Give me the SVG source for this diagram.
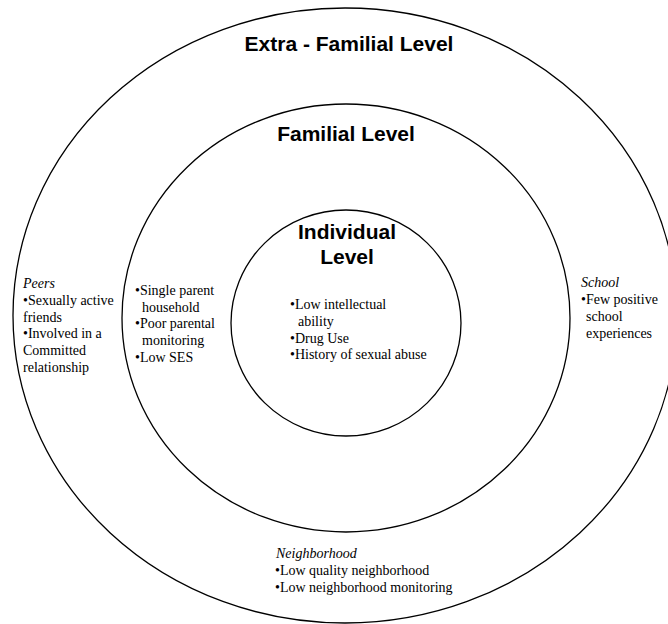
<svg xmlns="http://www.w3.org/2000/svg" width="668" height="624" viewBox="0 0 668 624">
  <style>
    .ring { fill: none; stroke: #000; stroke-width: 1.3; }
    .title { font-family: "Liberation Sans", Arial, sans-serif; font-weight: bold; font-size: 21px; fill: #000; text-anchor: middle; }
    .body { font-family: "Liberation Serif", "Times New Roman", serif; font-size: 14px; fill: #000; }
    .head { font-style: italic; }
  </style>
  <rect width="668" height="624" fill="#fff"/>

  <!-- nested levels, outermost first -->
  <g id="extra-familial">
    <ellipse class="ring" cx="345" cy="315.5" rx="332" ry="307.5"/>
    <text class="title" x="349" y="51">Extra - Familial Level</text>
  </g>
  <g id="familial">
    <ellipse class="ring" cx="346" cy="318" rx="224" ry="214"/>
    <text class="title" x="346" y="141">Familial Level</text>
  </g>
  <g id="individual">
    <ellipse class="ring" cx="346" cy="323" rx="115" ry="113"/>
    <text class="title" x="347" y="239">Individual</text>
    <text class="title" x="347" y="264">Level</text>
  </g>

  <!-- factor lists -->
  <g id="peers">
    <text class="body head" x="23" y="288">Peers</text>
    <text class="body" x="23" y="305">•Sexually active</text>
    <text class="body" x="23" y="322">friends</text>
    <text class="body" x="23" y="338">•Involved in a</text>
    <text class="body" x="23" y="355">Committed</text>
    <text class="body" x="23" y="372">relationship</text>
  </g>
  <g id="family-factors">
    <text class="body" x="135" y="295">•Single parent</text>
    <text class="body" x="142" y="312">household</text>
    <text class="body" x="135" y="328">•Poor parental</text>
    <text class="body" x="142" y="345">monitoring</text>
    <text class="body" x="135" y="362">•Low SES</text>
  </g>
  <g id="individual-factors">
    <text class="body" x="290" y="309">•Low intellectual</text>
    <text class="body" x="298" y="326">ability</text>
    <text class="body" x="290" y="343">•Drug Use</text>
    <text class="body" x="290" y="359">•History of sexual abuse</text>
  </g>
  <g id="school">
    <text class="body head" x="581" y="287">School</text>
    <text class="body" x="581" y="304">•Few positive</text>
    <text class="body" x="586" y="321">school</text>
    <text class="body" x="586" y="338">experiences</text>
  </g>
  <g id="neighborhood">
    <text class="body head" x="276" y="558">Neighborhood</text>
    <text class="body" x="275" y="575">•Low quality neighborhood</text>
    <text class="body" x="275" y="592">•Low neighborhood monitoring</text>
  </g>
</svg>
